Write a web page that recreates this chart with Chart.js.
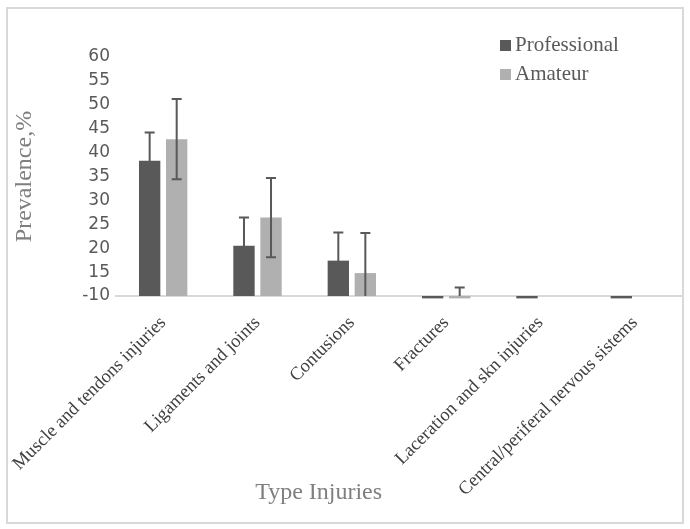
<!DOCTYPE html>
<html>
<head>
<meta charset="utf-8">
<script src="https://cdn.jsdelivr.net/npm/chart.js@4"></script>
<style>
  body { margin: 0; background: #fff; }
  #wrap { position: relative; width: 690px; height: 529px; }
  #frame { position: absolute; left: 6px; top: 7px; width: 674px; height: 513px; border: 2px solid #d9d9d9; pointer-events: none; }
</style>
</head>
<body>
<div id="wrap">
  <canvas id="myChart"></canvas>
  <div id="frame"></div>
</div>
<script>
const categories = ['Muscle and tendons injuries', 'Ligaments and joints', 'Contusions', 'Fractures', 'Laceration and skn injuries', 'Central/periferal nervous sistems'];
const professional = [38.3, 20.5, 17.4, 9.5, 9.5, 9.5];
const amateur = [42.8, 26.4, 14.8, 9.5, null, null];
const professionalErr = [5.9, 5.9, 5.9, 0, 0, 0];
const amateurErr = [8.4, 8.3, 8.4, 2.3, 0, 0];
const yTicks = [10, 15, 20, 25, 30, 35, 40, 45, 50, 55, 60];

const serif = '"Liberation Serif", "Times New Roman", serif';

// error bars, clipped to the plot area like the original
const errorBars = {
    id: 'errorBars',
    afterDatasetsDraw(chart) {
        const { ctx, chartArea, scales: { y } } = chart;
        ctx.save();
        ctx.beginPath();
        ctx.rect(chartArea.left, chartArea.top, chartArea.right - chartArea.left, chartArea.bottom - chartArea.top);
        ctx.clip();
        ctx.strokeStyle = '#595959';
        ctx.lineWidth = 2;
        chart.data.datasets.forEach((ds, i) => {
            const meta = chart.getDatasetMeta(i);
            meta.data.forEach((bar, j) => {
                const v = ds.data[j];
                const e = ds.errors[j];
                if (v == null || !e) return;
                const top = y.getPixelForValue(v + e);
                const bot = y.getPixelForValue(v - e);
                ctx.beginPath();
                ctx.moveTo(bar.x, top); ctx.lineTo(bar.x, bot);
                ctx.moveTo(bar.x - 5, top); ctx.lineTo(bar.x + 5, top);
                ctx.moveTo(bar.x - 5, bot); ctx.lineTo(bar.x + 5, bot);
                ctx.stroke();
            });
        });
        ctx.restore();
    }
};

// legend in the top right corner and the x title, as placed in the original
const extras = {
    id: 'extras',
    afterDraw(chart) {
        const { ctx, chartArea } = chart;
        ctx.save();
        ctx.font = '21px ' + serif;
        ctx.textBaseline = 'middle';
        chart.data.datasets.forEach((ds, i) => {
            const yy = 45 + i * 29;
            ctx.fillStyle = ds.backgroundColor;
            ctx.fillRect(500, yy - 5, 11, 11);
            ctx.fillStyle = '#595959';
            ctx.fillText(ds.label, 515, yy);
        });
        ctx.font = '24px ' + serif;
        ctx.fillStyle = '#7f7f7f';
        ctx.textAlign = 'center';
        ctx.fillText('Type Injuries', chartArea.left + (chartArea.right - chartArea.left) * 0.358, 493);
        ctx.restore();
    }
};

const ctx = document.getElementById('myChart').getContext('2d');

new Chart(ctx, {
    type: 'bar',
    data: {
        labels: categories,
        datasets: [{
            label: 'Professional',
            data: professional,
            errors: professionalErr,
            backgroundColor: '#595959',
            base: yTicks[0],
            clip: false
        }, {
            label: 'Amateur',
            data: amateur,
            errors: amateurErr,
            backgroundColor: '#b0b0b0',
            base: yTicks[0],
            clip: false
        }]
    },
    options: {
        responsive: true,
        maintainAspectRatio: false,
        animation: false,
        categoryPercentage: 0.573,
        barPercentage: 0.79,
        layout: { padding: { left: 8, right: 8, top: 57, bottom: 8 } },
        scales: {
            x: {
                grid: { display: false },
                border: { display: true, color: '#d9d9d9', width: 2 },
                ticks: {
                    minRotation: 45,
                    maxRotation: 45,
                    padding: 8,
                    autoSkip: false,
                    color: '#404040',
                    font: { family: serif, size: 18.5 }
                },
                afterFit(scale) {
                    scale.paddingLeft = 0;
                    scale.paddingRight = 0;
                    scale.height = 225;
                }
            },
            y: {
                min: yTicks[0],
                max: yTicks[yTicks.length - 1],
                afterBuildTicks(scale) {
                    scale.ticks = yTicks.map(v => ({ value: v }));
                },
                grid: { display: false, drawTicks: false },
                border: { display: false },
                ticks: {
                    padding: 6,
                    color: '#595959',
                    font: { family: '"DejaVu Sans", sans-serif', size: 17 },
                    callback: (v) => v === 10 ? '-10' : v
                },
                title: {
                    display: true,
                    text: 'Prevalence,%',
                    color: '#7f7f7f',
                    font: { family: serif, size: 24 },
                    padding: { top: 2, bottom: 0 }
                },
                afterFit(scale) {
                    scale.width = 108;
                }
            }
        },
        plugins: {
            legend: { display: false },
            tooltip: { enabled: false }
        }
    },
    plugins: [errorBars, extras]
});
</script>
</body>
</html>
